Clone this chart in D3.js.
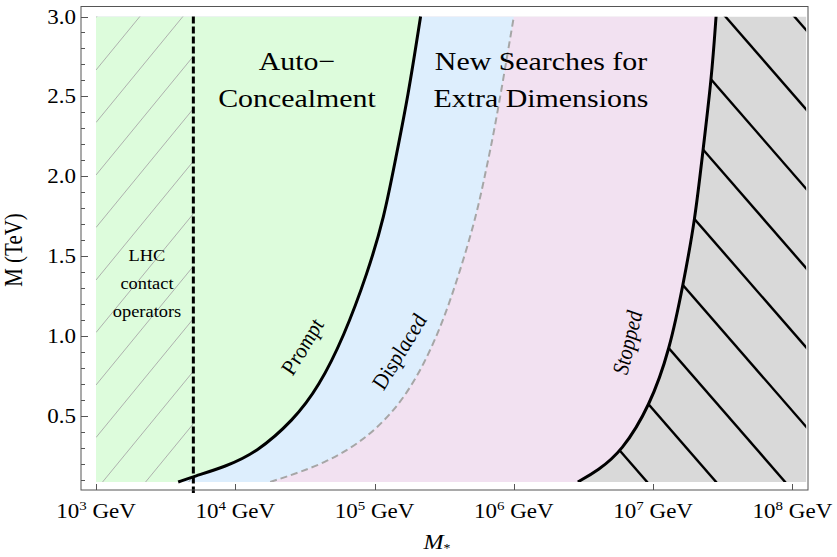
<!DOCTYPE html>
<html>
<head>
<script src="https://d3js.org/d3.v7.min.js"></script>
<style>
  body { margin: 0; background: #fff; }
  text { font-family: "Liberation Serif", "DejaVu Serif", serif; fill: #000; }
</style>
</head>
<body>
<svg id="chart" width="837" height="557"></svg>
<script>
// boundaries: M (TeV) against M* (GeV)
var promptM  = [0.09, 0.124, 0.186, 0.272, 0.478, 0.686, 1.0, 1.397, 1.749, 2.103, 2.5, 3.0];
var promptMs = [3.89e3, 5.01e3, 8.51e3, 1.41e4, 2.63e4, 3.98e4, 6.03e4, 8.91e4, 1.175e5, 1.41e5, 1.74e5, 2.14e5];

var displacedM  = [0.09, 0.2075, 0.374, 0.5825, 0.8325, 1.103, 1.397, 1.749, 2.04, 2.311, 3.0];
var displacedMs = [1.78e4, 4.57e4, 9.12e4, 1.55e5, 2.29e5, 3.13e5, 4.07e5, 5.37e5, 6.31e5, 7.35e5, 1.0e6];

var stoppedM  = [0.09, 0.1625, 0.28, 0.566, 0.922, 1.322, 1.728, 2.166, 2.616, 3.0];
var stoppedMs = [2.88e6, 4.02e6, 5.94e6, 9.48e6, 1.32e7, 1.64e7, 2.00e7, 2.28e7, 2.63e7, 2.83e7];

var lhcLimit = 5e3; // GeV

var xTickVals = [1e3, 1e4, 1e5, 1e6, 1e7, 1e8];
var xTickExp  = ["3", "4", "5", "6", "7", "8"];
var yTickVals = [0.5, 1.0, 1.5, 2.0, 2.5, 3.0];
var yTickLabels = ["0.5", "1.0", "1.5", "2.0", "2.5", "3.0"];

var colGreen = "#ddfcdc", colBlue = "#ddeefd", colPink = "#f2e1f1", colGray = "#d9d9d9";
var SX = 1.15; // the figure's text is a little stretched sideways

var svg = d3.select("#chart");

var x = d3.scaleLog().domain([1e3, 1.26e8]).range([96, 806.4]);
var y = d3.scaleLinear().domain([0.09, 3.0]).range([482, 16.5]);

var x0 = x.range()[0], x1 = x.range()[1], yb = y.range()[0], yt = y.range()[1];

function pts(ms, m) { return ms.map(function(v, i) { return [x(v), y(m[i])]; }); }
var line = d3.line().curve(d3.curveBasis);

var promptPts = pts(promptMs, promptM);
var displacedPts = pts(displacedMs, displacedM);
var stoppedPts = pts(stoppedMs, stoppedM);

function leftOf(p) { return line(p) + "L" + x0 + "," + yt + "L" + x0 + "," + yb + "Z"; }
function rightOf(p) { return line(p) + "L" + x1 + "," + yt + "L" + x1 + "," + yb + "Z"; }

var defs = svg.append("defs");
defs.append("clipPath").attr("id", "plotClip")
  .append("rect").attr("x", x0).attr("y", yt).attr("width", x1 - x0).attr("height", yb - yt);
defs.append("clipPath").attr("id", "grayClip")
  .append("path").attr("d", rightOf(stoppedPts));
defs.append("clipPath").attr("id", "lhcClip")
  .append("rect").attr("x", x0).attr("y", yt).attr("width", x(lhcLimit) - x0).attr("height", yb - yt);

var g = svg.append("g").attr("clip-path", "url(#plotClip)");

// regions
g.append("rect").attr("x", x0).attr("y", yt).attr("width", x1 - x0).attr("height", yb - yt).attr("fill", colGray);
g.append("path").attr("d", leftOf(stoppedPts)).attr("fill", colPink);
g.append("path").attr("d", leftOf(displacedPts)).attr("fill", colBlue);
g.append("path").attr("d", leftOf(promptPts)).attr("fill", colGreen);

// hatching of the excluded region
var hg = svg.append("g").attr("clip-path", "url(#grayClip)").append("g").attr("clip-path", "url(#plotClip)");
var hb = x(1e7) - 6, slope = 1.15;
d3.range(-8, 9).forEach(function(k) {
  var xb = hb + 69 * k;
  hg.append("line")
    .attr("x1", xb - (yb + 20) / slope).attr("y1", -20)
    .attr("x2", xb + 20 / slope).attr("y2", yb + 20)
    .attr("stroke", "#000").attr("stroke-width", 2.4);
});

// LHC hatching
var lg = svg.append("g").attr("clip-path", "url(#lhcClip)");
d3.range(-3, 12).forEach(function(k) {
  var ya = 70 + 52.5 * k;
  lg.append("line")
    .attr("x1", x0).attr("y1", ya)
    .attr("x2", x0 + 150).attr("y2", ya - 1.22 * 150)
    .attr("stroke", "#a8a8a8").attr("stroke-width", 0.9);
});

// boundary curves
g.append("path").attr("d", line(displacedPts)).attr("fill", "none")
  .attr("stroke", "#a6a6a6").attr("stroke-width", 2).attr("stroke-dasharray", "7,4");
svg.append("g").append("path").attr("d", line(promptPts)).attr("fill", "none")
  .attr("stroke", "#000").attr("stroke-width", 3);
g.append("path").attr("d", line(stoppedPts)).attr("fill", "none")
  .attr("stroke", "#000").attr("stroke-width", 3);

// LHC limit
svg.append("line").attr("x1", x(lhcLimit)).attr("x2", x(lhcLimit))
  .attr("y1", yt).attr("y2", 493)
  .attr("stroke", "#000").attr("stroke-width", 3).attr("stroke-dasharray", "7,3");

// frame
svg.append("rect").attr("x", 81).attr("y", 6.5).attr("width", 727).attr("height", 483.5)
  .attr("fill", "none").attr("stroke", "#555").attr("stroke-width", 1);

// y ticks
var yMinor = y.ticks(30).filter(function(v) { return v >= 0.1; });
svg.append("g").selectAll("line").data(yMinor).enter().append("line")
  .attr("x1", 81).attr("x2", function(d) { return yTickVals.indexOf(d) >= 0 ? 88 : 85; })
  .attr("y1", function(d) { return Math.round(y(d)) + 0.5; })
  .attr("y2", function(d) { return Math.round(y(d)) + 0.5; })
  .attr("stroke", "#555");

function stretched(px, py, rot) {
  return "translate(" + px + "," + py + ") scale(" + SX + ",1)" + (rot ? " rotate(" + rot + ")" : "");
}

svg.append("g").selectAll("text").data(yTickVals).enter().append("text")
  .attr("transform", function(d) { return stretched(76, y(d) + 7); })
  .attr("text-anchor", "end").attr("font-size", 20)
  .text(function(d, i) { return yTickLabels[i]; });

// x ticks
svg.append("g").selectAll("line").data(xTickVals).enter().append("line")
  .attr("x1", function(d) { return Math.round(x(d)) + 0.5; })
  .attr("x2", function(d) { return Math.round(x(d)) + 0.5; })
  .attr("y1", 490).attr("y2", 484).attr("stroke", "#555");

var xl = svg.append("g").selectAll("text").data(xTickVals).enter().append("text")
  .attr("transform", function(d) { return stretched(x(d), 518); })
  .attr("text-anchor", "middle").attr("font-size", 20);
xl.append("tspan").text("10");
xl.append("tspan").attr("dy", -8).attr("font-size", 13).text(function(d, i) { return xTickExp[i]; });
xl.append("tspan").attr("dy", 8).text("\u00a0GeV");

// axis titles
svg.append("text").attr("transform", stretched(22, 250, -90))
  .attr("text-anchor", "middle").attr("font-size", 21).text("M (TeV)");
var mt = svg.append("text").attr("transform", stretched(437, 549))
  .attr("text-anchor", "middle").attr("font-size", 21).attr("font-style", "italic");
mt.append("tspan").text("M");
mt.append("tspan").attr("dy", 3).attr("font-size", 12).attr("font-style", "normal").text("*");

// region labels
function block(cx, lines, base, lh, size) {
  lines.forEach(function(s, i) {
    svg.append("text").attr("transform", stretched(cx, base + i * lh))
      .attr("text-anchor", "middle").attr("font-size", size).text(s);
  });
}
block(297, ["Auto\u2212", "Concealment"], 70, 37, 26);
block(541, ["New Searches for", "Extra Dimensions"], 70, 37, 26);
block(147, ["LHC", "contact", "operators"], 261, 28, 16);

function slanted(cx, cy, rot, s) {
  svg.append("text").attr("transform", stretched(cx, cy, rot))
    .attr("text-anchor", "middle").attr("font-size", 20).attr("font-style", "italic").text(s);
}
slanted(309, 350, -62, "Prompt");
slanted(406, 355, -62, "Displaced");
slanted(635, 344, -78, "Stopped");
</script>
</body>
</html>
